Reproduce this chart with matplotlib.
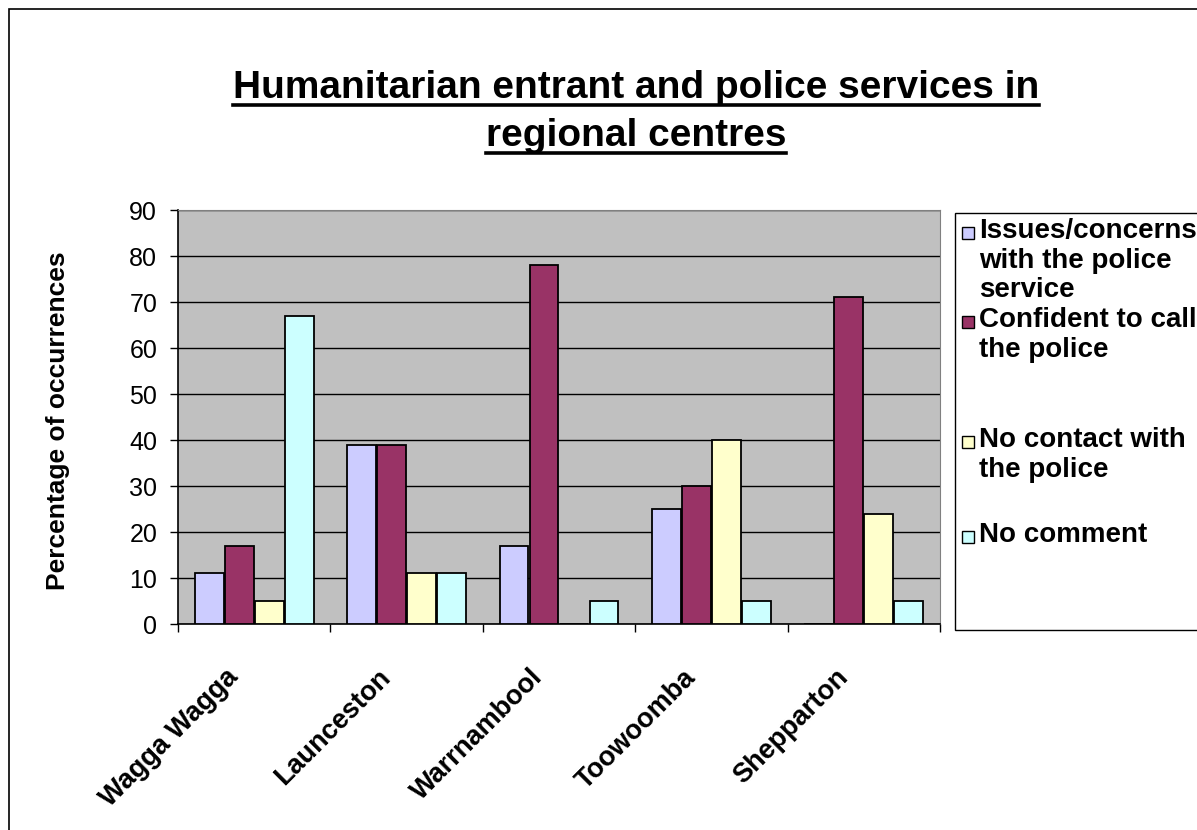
import numpy as np
import matplotlib.pyplot as plt
import matplotlib.transforms as mtransforms
from matplotlib.patches import Rectangle
from matplotlib.lines import Line2D

plt.rcParams['font.family'] = ['Liberation Sans', 'DejaVu Sans']

centres = ['Wagga Wagga', 'Launceston', 'Warrnambool', 'Toowoomba', 'Shepparton']
series = ['Issues/concerns\nwith the police\nservice',
          'Confident to call\nthe police',
          'No contact with\nthe police',
          'No comment']
issues = [11, 39, 17, 25, 0]
confident = [17, 39, 78, 30, 71]
no_contact = [5, 11, 0, 40, 24]
no_comment = [67, 11, 5, 5, 5]
colours = ['#CCCCFF', '#993366', '#FFFFCC', '#CCFFFF']
yticks = list(range(0, 100, 10))

fig = plt.figure(figsize=(11.97, 8.30), dpi=100)
ax = fig.add_axes([178/1197, 1 - 624/830, 762/1197, 414/830])
ax.set_facecolor('#C0C0C0')

x = np.arange(len(centres))
w = 0.197
for i, (vals, col) in enumerate(zip([issues, confident, no_contact, no_comment], colours)):
    ax.bar(x + (i - 1.5) * w, vals, width=w * 0.96, color=col,
           edgecolor='black', linewidth=1.3, zorder=3)

ax.set_xlim(-0.5, len(centres) - 0.5)
ax.set_ylim(0, 90)
ax.set_yticks(yticks)
ax.set_yticklabels([str(t) for t in yticks], fontsize=18)
ax.yaxis.grid(True, color='black', linewidth=1.0, zorder=1)
ax.tick_params(axis='y', length=6, width=1, pad=9)

# category boundaries as major ticks, names on minor ticks
ax.set_xticks(np.arange(len(centres) + 1) - 0.5)
ax.set_xticklabels([])
ax.tick_params(axis='x', which='major', length=6, width=1)
ax.set_xticks(x, minor=True)
ax.set_xticklabels(centres, minor=True, rotation=45, ha='right',
                   rotation_mode='anchor', fontsize=19.5, fontweight='bold')
ax.tick_params(axis='x', which='minor', length=0, pad=29)
shift = mtransforms.ScaledTranslation(-0.29, 0, fig.dpi_scale_trans)
for lab in ax.get_xticklabels(minor=True):
    lab.set_transform(lab.get_transform() + shift)

for side in ['top', 'right']:
    ax.spines[side].set_color('#808080')
for side in ['left', 'bottom']:
    ax.spines[side].set_color('black')
    ax.spines[side].set_linewidth(1.2)

ax.set_ylabel('Percentage of occurrences', fontsize=19, fontweight='bold')
ax.yaxis.set_label_coords((70 - 178) / 762, 0.49)

# outer chart border
fig.patches.append(Rectangle((9/1197, -0.05), 1.1, 1 - 9/830 + 0.05,
                             transform=fig.transFigure, fill=False,
                             edgecolor='black', linewidth=1.2))

# title, underlined
title_lines = ['Humanitarian entrant and police services in', 'regional centres']
title_y = [1 - 88/830, 1 - 136/830]
renderer = fig.canvas.get_renderer()
for line, ty in zip(title_lines, title_y):
    t = fig.text(636/1197, ty, line, ha='center', va='center',
                 fontsize=28, fontweight='bold')
    bb = t.get_window_extent(renderer).transformed(fig.transFigure.inverted())
    fig.lines.append(Line2D([bb.x0, bb.x1], [bb.y0 + 0.001, bb.y0 + 0.001],
                            transform=fig.transFigure, color='black', linewidth=2.6))

# legend box
fig.patches.append(Rectangle((955/1197, 1 - 630/830), 0.3, (630 - 213)/830,
                             transform=fig.transFigure, facecolor='white',
                             edgecolor='black', linewidth=1.0))
entry_y = [233, 322, 442, 537]
for label, col, ey in zip(series, colours, entry_y):
    fig.patches.append(Rectangle((962/1197, 1 - (ey + 6)/830), 12/1197, 12/830,
                                 transform=fig.transFigure, facecolor=col,
                                 edgecolor='black', linewidth=1.0))
    fig.text(979/1197, 1 - (ey - 15)/830, label, ha='left', va='top',
             fontsize=20, fontweight='bold', linespacing=1.18)

fig.savefig('out.png', dpi=100)
